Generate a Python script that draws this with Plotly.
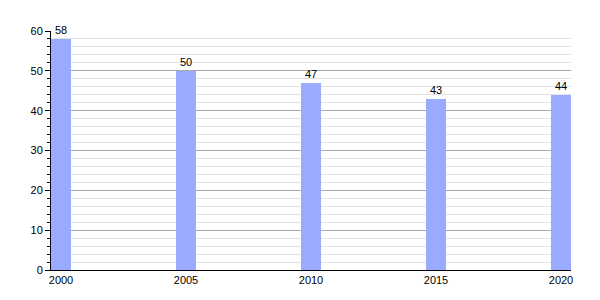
import plotly.graph_objects as go

years = [2000, 2005, 2010, 2015, 2020]
values = [58, 50, 47, 43, 44]
tick_labels = ["2000", "2005", "2010", "2015", "2020"]

FONT = "Liberation Sans, Arial, sans-serif"

fig = go.Figure(go.Bar(
    x=years, y=values, width=0.8,
    marker=dict(color="#99aaff", line=dict(width=0)),
    text=[str(v) for v in values], textposition="outside",
    textfont=dict(family=FONT, size=11, color="#000000"),
    cliponaxis=False,
))

fig.update_layout(
    width=600, height=300,
    margin=dict(l=51, r=29, t=31, b=30),
    plot_bgcolor="white", paper_bgcolor="white",
    font=dict(family=FONT, size=11, color="#000000"),
    showlegend=False,
    bargap=0,
)
fig.update_xaxes(
    range=[1999.6, 2020.4], tickvals=years, ticktext=tick_labels,
    tickfont=dict(family=FONT, size=11, color="#000000"),
    showgrid=False, showline=True, linecolor="black", linewidth=1,
    ticks="", zeroline=False,
)
fig.update_yaxes(
    range=[0, 60], tickvals=[0, 10, 20, 30, 40, 50, 60],
    tickfont=dict(family=FONT, size=11, color="#000000"),
    showgrid=True, gridcolor="#a8a8a8", gridwidth=1,
    showline=True, linecolor="black", linewidth=1,
    ticks="outside", ticklen=5, tickcolor="black",
    zeroline=False,
    minor=dict(dtick=2, showgrid=True, gridcolor="#e2e2e2", gridwidth=1,
               ticks="outside", ticklen=3, tickcolor="black"),
)

fig.write_html("out.html")
